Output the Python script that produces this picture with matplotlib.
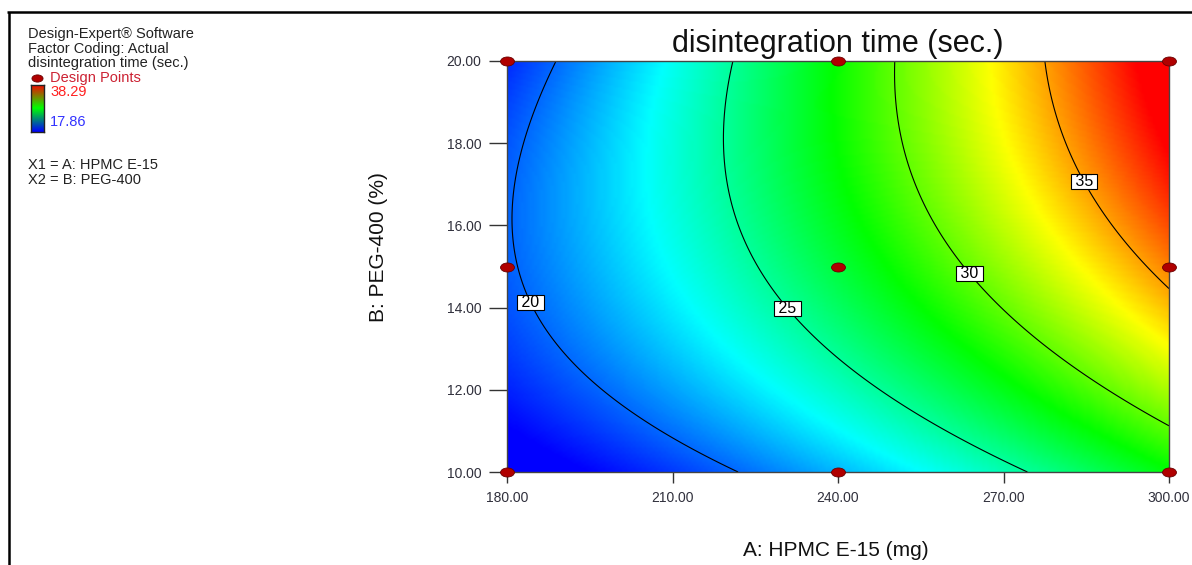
import numpy as np
import matplotlib.pyplot as plt
from matplotlib.colors import LinearSegmentedColormap, Normalize
from matplotlib.lines import Line2D
from matplotlib.path import Path
from matplotlib.transforms import Affine2D

plt.rcParams['font.family'] = ['Liberation Sans', 'DejaVu Sans']

# 3x3 factorial design: HPMC E-15 (mg), PEG-400 (%), disintegration time (sec.)
hpmc = [180, 180, 180, 240, 240, 240, 300, 300, 300]
peg = [10, 15, 20, 10, 15, 20, 10, 15, 20]
dt_sec = [16.94, 19.80, 18.70, 21.58, 26.87, 28.20, 27.92, 35.64, 39.40]

levels = [20, 25, 30, 35]
label_spots = [(184, 14.1), (231, 14.0), (264, 14.85), (285, 17.1)]
x_ticks = [180, 210, 240, 270, 300]
y_ticks = [10, 12, 14, 16, 18, 20]
resp_low, resp_high = 17.86, 38.29

W, H = 1192, 565


def fx(px):
    return px / W


def fy(py):
    return 1 - py / H


def model_terms(A, B):
    a = (np.asarray(A, float) - 240) / 60.0
    b = (np.asarray(B, float) - 15) / 5.0
    return np.column_stack([np.ones_like(a), a, b, a * b, a ** 2, b ** 2])


# quadratic response surface fitted to the design points
coef, *_ = np.linalg.lstsq(model_terms(hpmc, peg), np.array(dt_sec), rcond=None)
gx, gy = np.meshgrid(np.linspace(180, 300, 241), np.linspace(10, 20, 201))
Z = (model_terms(gx.ravel(), gy.ravel()) @ coef).reshape(gx.shape)

de_cmap = LinearSegmentedColormap.from_list(
    'de', ['#0000ff', '#00ffff', '#00ff00', '#ffff00', '#ff0000'])
norm = Normalize(resp_low, resp_high)

fig = plt.figure(figsize=(W / 100, H / 100), dpi=100)

ax = fig.add_axes([fx(507), fy(472), fx(1169) - fx(507), fy(61) - fy(472)])
ax.imshow(Z, extent=[180, 300, 10, 20], origin='lower', aspect='auto',
          cmap=de_cmap, norm=norm, interpolation='bilinear')
cs = ax.contour(gx, gy, Z, levels=levels, colors='black', linewidths=0.8)
texts = ax.clabel(cs, fmt=' %d ', fontsize=11.5, manual=label_spots, inline=False)
for t in texts:
    t.set_rotation(0)
    t.set_bbox(dict(boxstyle='square,pad=0.0', fc='white', ec='black', lw=0.8))
    t.set_zorder(6)

ell = Affine2D().scale(1.0, 0.65).transform_path(Path.unit_circle())
ax.plot(hpmc, peg, ls='none', marker=ell, ms=10, mfc='#b00000', mec='#6a0000',
        mew=0.6, clip_on=False, zorder=7)

ax.set_xlim(180, 300)
ax.set_ylim(10, 20)
ax.set_xticks(x_ticks)
ax.set_xticklabels([f'{v:.2f}' for v in x_ticks])
ax.set_yticks(y_ticks)
ax.set_yticklabels([f'{v:.2f}' for v in y_ticks])
ax.tick_params(axis='x', length=8, width=1, pad=6, labelsize=10,
               color='#333333', labelcolor='#30303c')
ax.tick_params(axis='y', length=13, width=1, pad=5.5, labelsize=10,
               color='#333333', labelcolor='#30303c')
for s in ax.spines.values():
    s.set_color('#444444')
    s.set_linewidth(1)

fig.text(fx(838), fy(44), 'disintegration time (sec.)', ha='center', va='center',
         fontsize=22, color='#111111')
fig.text(fx(836), fy(550), 'A: HPMC E-15 (mg)', ha='center', va='center',
         fontsize=15, color='#111111')
fig.text(fx(378), fy(247), 'B: PEG-400 (%)', ha='center', va='center',
         rotation=90, fontsize=15, color='#111111')

# info block on the left
info = [('Design-Expert® Software', 34), ('Factor Coding: Actual', 48.5),
        ('disintegration time (sec.)', 63)]
for txt, y in info:
    fig.text(fx(28), fy(y), txt, ha='left', va='center', fontsize=10.5, color='#222222')
fig.add_artist(Line2D([fx(37)], [fy(78)], marker=ell, ms=8, mfc='#b00000',
                      mec='#6a0000', mew=0.6, ls='none', transform=fig.transFigure))
fig.text(fx(50), fy(78), 'Design Points', ha='left', va='center', fontsize=10.5,
         color='#cc2233')

cax = fig.add_axes([fx(31), fy(132), fx(44) - fx(31), fy(85) - fy(132)])
cax.imshow(np.linspace(0, 1, 100)[:, None], aspect='auto', origin='lower',
           cmap=LinearSegmentedColormap.from_list('rgb', ['#0000ff', '#00ff00', '#ff0000']))
cax.set_xticks([])
cax.set_yticks([])
for s in cax.spines.values():
    s.set_color('#222222')
    s.set_linewidth(1)
fig.text(fx(50), fy(92), f'{resp_high:.2f}', ha='left', va='center', fontsize=10.5,
         color='#ff2020')
fig.text(fx(50), fy(122), f'{resp_low:.2f}', ha='left', va='center', fontsize=10.5,
         color='#3333ff')
fig.text(fx(28), fy(165), 'X1 = A: HPMC E-15', ha='left', va='center', fontsize=10.5,
         color='#222222')
fig.text(fx(28), fy(180), 'X2 = B: PEG-400', ha='left', va='center', fontsize=10.5,
         color='#222222')

# outer frame
fig.add_artist(Line2D([fx(7), 1], [fy(12), fy(12)], color='black', lw=1.8,
                      solid_capstyle='butt', transform=fig.transFigure))
fig.add_artist(Line2D([fx(8.5), fx(8.5)], [fy(12), 0], color='black', lw=1.8,
                      solid_capstyle='butt', transform=fig.transFigure))

fig.savefig('out.png', dpi=100)
